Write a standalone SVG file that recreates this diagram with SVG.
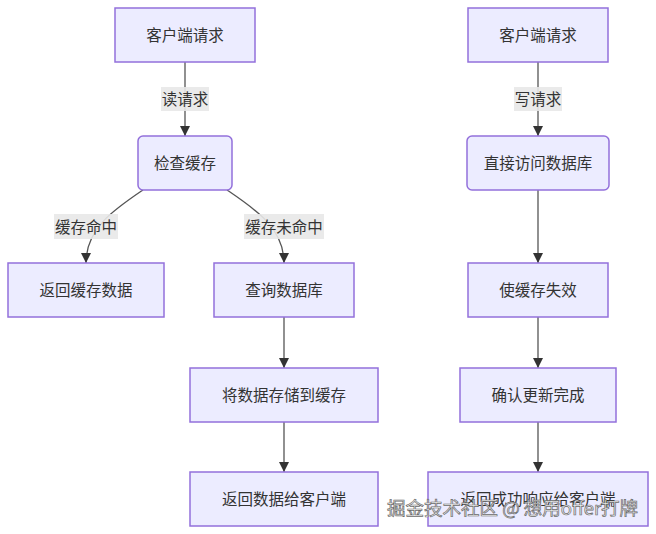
<svg xmlns="http://www.w3.org/2000/svg" width="656" height="534" viewBox="0 0 656 534">
<defs>
<style>
.node rect{fill:#ECECFF;stroke:#9370DB;stroke-width:1.5}
.node text,.lbl text{font-family:"Noto Sans CJK SC","Liberation Sans",sans-serif;font-size:15.5px;fill:#333;text-anchor:middle;dominant-baseline:central}
.edge{fill:none;stroke:#555;stroke-width:1.3}
.lbl rect{fill:#e8e8e8;opacity:0.9}
.wm{font-family:"Noto Sans CJK SC","Liberation Sans",sans-serif;font-size:18.5px;fill:#f2f2f2;stroke:#6a6a6a;stroke-width:0.7}
</style>
<marker id="arr" viewBox="0 0 10 10" refX="10" refY="5" markerWidth="10" markerHeight="10" markerUnits="userSpaceOnUse" orient="auto">
<path d="M0,0 L10,5 L0,10 z" fill="#333"/>
</marker>
</defs>
<rect width="656" height="534" fill="#fff"/>
<g id="connectors">
<path class="edge" d="M185,62 L185,136" marker-end="url(#arr)"/>
<path class="edge" d="M143,190 C115,209 86,228 86,263" marker-end="url(#arr)"/>
<path class="edge" d="M227,190 C255,209 284,228 284,263" marker-end="url(#arr)"/>
<path class="edge" d="M284,317 L284,368" marker-end="url(#arr)"/>
<path class="edge" d="M284,422 L284,472" marker-end="url(#arr)"/>
<path class="edge" d="M538,62 L538,136" marker-end="url(#arr)"/>
<path class="edge" d="M538,190 L538,263" marker-end="url(#arr)"/>
<path class="edge" d="M538,317 L538,368" marker-end="url(#arr)"/>
<path class="edge" d="M538,422 L538,472" marker-end="url(#arr)"/>
<g class="lbl"><rect x="161" y="87" width="48" height="24"/><text x="185" y="98">读请求</text></g>
<g class="lbl"><rect x="54" y="214" width="64" height="25"/><text x="86" y="225.5">缓存命中</text></g>
<g class="lbl"><rect x="244" y="214" width="80" height="25"/><text x="284" y="225.5">缓存未命中</text></g>
<g class="lbl"><rect x="514" y="87" width="48" height="24"/><text x="538" y="98">写请求</text></g>
</g>
<g id="n1" class="node"><rect x="115" y="8" width="140" height="54"/><text x="185" y="34">客户端请求</text></g>
<g id="n2" class="node"><rect x="138" y="136" width="94" height="54" rx="5"/><text x="185" y="162">检查缓存</text></g>
<g id="n3" class="node"><rect x="8" y="263" width="156" height="54"/><text x="86" y="289">返回缓存数据</text></g>
<g id="n4" class="node"><rect x="214" y="263" width="140" height="54"/><text x="284" y="289">查询数据库</text></g>
<g id="n5" class="node"><rect x="190" y="368" width="188" height="54"/><text x="284" y="394">将数据存储到缓存</text></g>
<g id="n6" class="node"><rect x="190" y="472" width="188" height="54"/><text x="284" y="498">返回数据给客户端</text></g>
<g id="m1" class="node"><rect x="468" y="8" width="140" height="54"/><text x="538" y="34">客户端请求</text></g>
<g id="m2" class="node"><rect x="467" y="136" width="142" height="54" rx="5"/><text x="538" y="162">直接访问数据库</text></g>
<g id="m3" class="node"><rect x="468" y="263" width="140" height="54"/><text x="538" y="289">使缓存失效</text></g>
<g id="m4" class="node"><rect x="460" y="368" width="156" height="54"/><text x="538" y="394">确认更新完成</text></g>
<g id="m5" class="node"><rect x="428" y="472" width="220" height="54"/><text x="538" y="498">返回成功响应给客户端</text></g>
<text class="wm" x="387" y="515">掘金技术社区 @ 想用offer打牌</text>
</svg>
